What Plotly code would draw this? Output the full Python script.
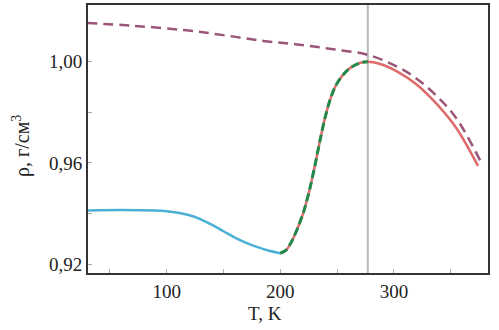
import plotly.graph_objects as go

# Data
T_blue = [30, 60, 90, 100, 110, 120, 130, 140, 150, 160, 170, 180, 190, 200]
rho_blue = [0.9412, 0.9414, 0.9412, 0.9409, 0.9403, 0.9393, 0.9377, 0.9355,
            0.9330, 0.9305, 0.9284, 0.9267, 0.9253, 0.9243]

T_rise = [200, 205, 210, 215, 220, 225, 230, 235, 240, 245, 250, 260, 270, 277]
rho_rise = [0.9243, 0.9255, 0.9290, 0.9340, 0.9400, 0.9480, 0.9580, 0.9690,
            0.9790, 0.9865, 0.9915, 0.9970, 0.9995, 1.0000]

T_fall = [277, 290, 303, 320, 338, 355, 374]
rho_fall = [1.0000, 0.9988, 0.9961, 0.9910, 0.9831, 0.9737, 0.9588]

T_dash = [30, 70, 115, 150, 185, 215, 245, 277, 303, 320, 338, 355, 377]
rho_dash = [1.0153, 1.0142, 1.0125, 1.0105, 1.0082, 1.0068, 1.0050, 1.0027,
            0.9980, 0.9933, 0.9863, 0.9776, 0.9600]

T_mark = 277
x_ticks = [50, 100, 150, 200, 250, 300, 350]
x_labels = ["", "100", "", "200", "", "300", ""]
y_ticks = [0.92, 0.94, 0.96, 0.98, 1.00]
y_labels = ["0,92", "", "0,96", "", "1,00"]

font = "Liberation Serif, Times New Roman, serif"

fig = go.Figure()
# vertical marker line
fig.add_trace(go.Scatter(x=[T_mark, T_mark], y=[0.9, 1.05], mode="lines",
                         line=dict(color="#b8b8b8", width=2), hoverinfo="skip"))
fig.add_trace(go.Scatter(x=T_dash, y=rho_dash, mode="lines",
                         line=dict(color="#9a5577", width=2.5, dash="10px,6px", shape="spline")))
fig.add_trace(go.Scatter(x=T_blue, y=rho_blue, mode="lines",
                         line=dict(color="#4bb0d6", width=2.5, shape="spline")))
fig.add_trace(go.Scatter(x=T_rise + T_fall[1:], y=rho_rise + rho_fall[1:], mode="lines",
                         line=dict(color="#de6a6a", width=2.5, shape="spline")))
fig.add_trace(go.Scatter(x=T_rise, y=rho_rise, mode="lines",
                         line=dict(color="#1f8a4c", width=3, dash="8px,4px", shape="spline")))

fig.update_layout(
    width=499, height=330,
    margin=dict(l=88, r=11, t=3, b=57),
    paper_bgcolor="white", plot_bgcolor="white",
    showlegend=False,
    font=dict(family=font, size=19, color="#222"),
    xaxis=dict(range=[30.7, 382.8], tickvals=x_ticks, ticktext=x_labels,
               ticks="inside", ticklen=4, tickcolor="#aaa", showgrid=False,
               zeroline=False, showline=True, linecolor="#333", linewidth=2,
               mirror=True, tickfont=dict(size=19, family=font, color="#222")),
    yaxis=dict(range=[0.9165, 1.0224], tickvals=y_ticks, ticktext=y_labels,
               ticks="inside", ticklen=4, tickcolor="#aaa", showgrid=False,
               zeroline=False, showline=True, linecolor="#333", linewidth=2,
               mirror=True, tickfont=dict(size=19, family=font, color="#222")),
    annotations=[
        dict(text="T, K", xref="paper", yref="paper", x=0.4425, y=0, yshift=-40,
             xanchor="center", yanchor="middle", showarrow=False,
             font=dict(size=19, family=font, color="#222")),
        dict(text="ρ, г/см<sup>3</sup>", xref="paper", yref="paper", x=0, xshift=-66,
             y=0.474, textangle=-90, xanchor="center", yanchor="middle", showarrow=False,
             font=dict(size=20, family=font, color="#222")),
    ],
)

fig.write_html("out.html", config={"displayModeBar": False},
               post_script="document.body.style.margin='0';")
